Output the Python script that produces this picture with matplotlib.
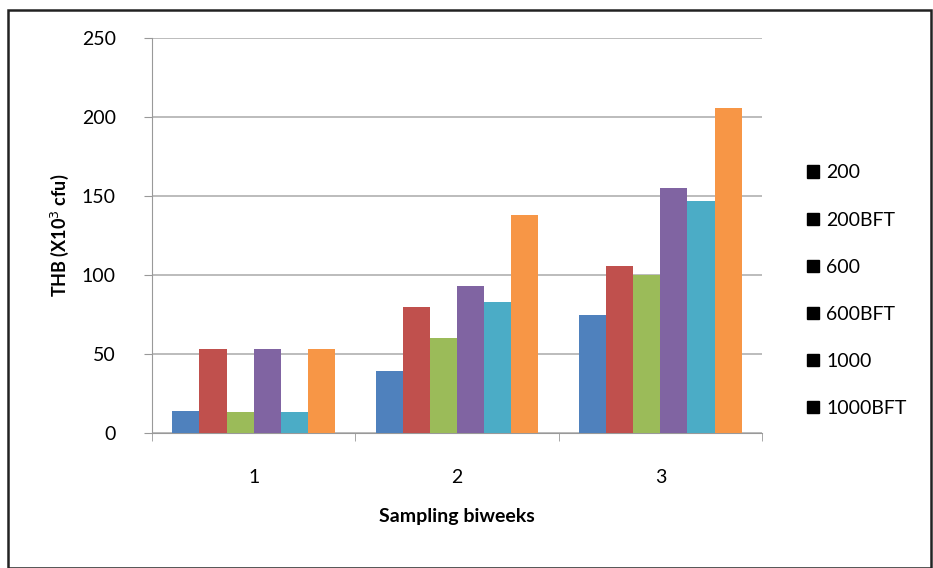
import numpy as np
import matplotlib.pyplot as plt
from matplotlib.patches import Rectangle

plt.rcParams['font.family'] = ['Lato', 'DejaVu Sans']

weeks = ['1', '2', '3']
series = ['200', '200BFT', '600', '600BFT', '1000', '1000BFT']
values = {
    '200': [14, 39, 75],
    '200BFT': [53, 80, 106],
    '600': [13, 60, 100],
    '600BFT': [53, 93, 155],
    '1000': [13, 83, 147],
    '1000BFT': [53, 138, 206],
}
colors = ['#4F81BD', '#C0504D', '#9BBB59', '#8064A2', '#4BACC6', '#F79646']

fig = plt.figure(figsize=(9.33, 5.68), dpi=100)
ax = fig.add_axes([152 / 933, 1 - 433 / 568, 610 / 933, 395 / 568])

# frame around the whole picture
fig.patches.append(Rectangle((8 / 933, 0.0), 1 - 8 / 933 - 0.002, 1 - 10 / 568,
                             transform=fig.transFigure, fill=False,
                             edgecolor='#222222', linewidth=1.8))

x = np.arange(len(weeks))
width = 0.8 / len(series)
for i, (name, col) in enumerate(zip(series, colors)):
    ax.bar(x - 0.4 + width * (i + 0.5), values[name], width, color=col,
           label=name, zorder=3)

ax.set_xlim(-0.5, 2.5)
ax.set_ylim(0, 250)
ax.set_yticks(range(0, 251, 50))
ax.grid(axis='y', color='#b0b0b0', linewidth=1.2, zorder=0)

ax.set_xticks(x)
ax.set_xticklabels(weeks, fontsize=14)
ax.set_xticks([-0.5, 0.5, 1.5, 2.5], minor=True)
ax.tick_params(axis='x', which='major', length=0, pad=26)
ax.tick_params(axis='x', which='minor', length=6, color='#999999')
ax.tick_params(axis='y', length=6, color='#999999', labelsize=14, pad=20)

for s in ['top', 'right']:
    ax.spines[s].set_visible(False)
ax.spines['left'].set_color('#999999')
ax.spines['bottom'].set_color('#999999')

ax.set_ylabel('THB (X10$^3$ cfu)', fontsize=13, fontweight='bold', labelpad=8)
ax.set_xlabel('Sampling biweeks', fontsize=14, fontweight='bold', labelpad=16)

handles = [Rectangle((0, 0), 1, 1, color='black') for _ in series]
ax.legend(handles, series, loc='center left', bbox_to_anchor=(1.045, 0.36),
          frameon=False, fontsize=14, handlelength=0.6, handleheight=0.6,
          labelspacing=1.55, handletextpad=0.4)

fig.savefig('out.png', dpi=100)
